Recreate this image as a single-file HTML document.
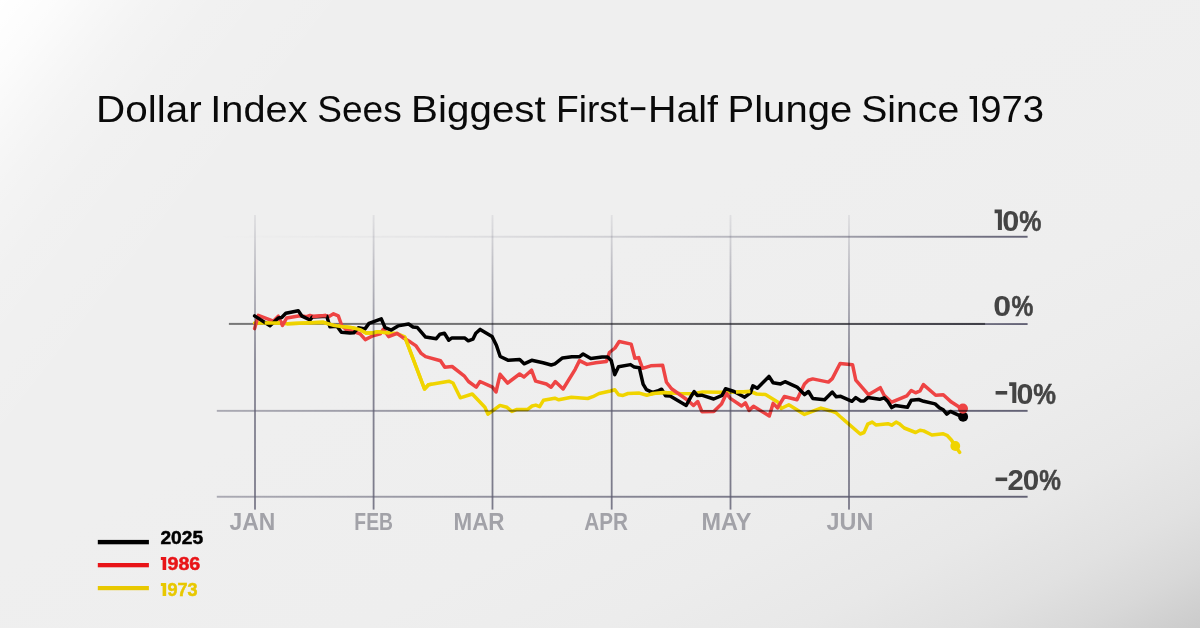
<!DOCTYPE html>
<html><head><meta charset="utf-8"><title>Dollar Index</title>
<style>
html,body{margin:0;padding:0;}
body{width:1200px;height:628px;overflow:hidden;font-family:"Liberation Sans",sans-serif;}
#bg{position:absolute;left:0;top:0;width:1200px;height:628px;
background:linear-gradient(128deg,rgba(255,255,255,1) 0%,rgba(255,255,255,0.78) 3.5%,rgba(255,255,255,0.5) 6.5%,rgba(255,255,255,0.3) 9%,rgba(255,255,255,0.12) 13%,rgba(255,255,255,0) 22%),linear-gradient(to bottom right,#efefef 0%,#efefef 45%,#eeeeee 65%,#ececec 75%,#e8e8e8 83.3%,#e1e1e1 90%,#d8d8d8 95%,#cbcbcb 100%);}
</style></head><body>
<div id="bg"></div>
<svg width="1200" height="628" viewBox="0 0 1200 628" style="position:absolute;left:0;top:0;will-change:transform">
<defs>
<linearGradient id="hg" gradientUnits="userSpaceOnUse" x1="216" y1="0" x2="1027" y2="0">
<stop offset="0" stop-color="#5b5a6e" stop-opacity="0.0"/><stop offset="0.25" stop-color="#5b5a6e" stop-opacity="0.06"/><stop offset="0.5" stop-color="#5b5a6e" stop-opacity="0.22"/><stop offset="0.75" stop-color="#5b5a6e" stop-opacity="0.5"/><stop offset="1" stop-color="#5b5a6e" stop-opacity="0.95"/></linearGradient>
<linearGradient id="hg2" gradientUnits="userSpaceOnUse" x1="216" y1="0" x2="1027" y2="0">
<stop offset="0" stop-color="#5b5a6e" stop-opacity="0.46"/><stop offset="1" stop-color="#5b5a6e" stop-opacity="0.95"/></linearGradient>
<linearGradient id="vg" gradientUnits="userSpaceOnUse" x1="0" y1="215" x2="0" y2="509">
<stop offset="0" stop-color="#5b5a6e" stop-opacity="0.10"/><stop offset="0.25" stop-color="#5b5a6e" stop-opacity="0.42"/><stop offset="0.5" stop-color="#5b5a6e" stop-opacity="0.72"/><stop offset="1" stop-color="#5b5a6e" stop-opacity="0.78"/></linearGradient>
</defs>
<rect x="228.9" y="322.9" width="756.2" height="2.0" fill="#000" fill-opacity="0.5"/>
<path d="M254.6,323.0 L279.0,323.0 L287.5,323.8 L323.0,322.3 L334.5,325.6 L341.5,326.6 L352.3,327.7 L360.8,329.9 L366.0,333.0 L372.9,333.0 L377.5,331.7 L389.8,333.0 L397.0,333.6 L404.8,336.9 L424.5,389.0 L428.5,384.7 L448.9,381.2 L453.0,383.0 L460.3,397.8 L472.3,394.0 L484.9,407.3 L488.0,414.2 L500.0,405.4 L506.9,407.3 L511.9,411.4 L517.0,409.4 L527.7,409.4 L532.1,406.0 L535.8,405.1 L539.6,406.6 L543.4,400.3 L554.8,398.2 L558.8,399.8 L571.4,397.3 L587.7,398.5 L592.8,396.7 L599.1,393.5 L610.4,391.0 L614.8,389.7 L618.6,394.8 L623.0,395.4 L628.0,393.5 L639.3,393.1 L646.8,395.2 L653.2,393.5 L663.3,392.6 L680.1,393.4 L693.5,393.7 L702.6,391.9 L722.7,392.3 L736.6,392.1 L750.4,391.5 L756.7,394.0 L765.5,394.6 L778.1,402.2 L781.2,408.5 L788.8,404.7 L804.5,414.4 L820.9,408.1 L830.0,410.7 L835.7,412.5 L840.1,416.5 L845.1,420.8 L860.2,434.0 L864.0,432.5 L867.7,424.2 L872.2,422.1 L875.9,424.9 L887.9,423.7 L891.7,425.2 L896.1,422.1 L899.2,423.7 L904.2,428.0 L915.6,432.5 L920.0,430.2 L923.7,430.9 L931.9,435.0 L943.3,433.8 L947.0,435.3 L951.4,440.0 L955.2,446.0 L959.6,452.3" fill="none" stroke="#f0d400" stroke-width="3.5" stroke-linejoin="round" stroke-linecap="round"/>
<path d="M254.6,328.6 L258.3,315.4 L273.3,321.2 L278.3,316.2 L282.5,325.4 L286.7,318.0 L300.0,315.8 L306.7,316.7 L310.0,315.4 L313.3,316.4 L325.8,315.6 L329.0,316.4 L333.5,313.8 L338.3,315.8 L341.7,325.5 L346.0,329.5 L355.0,332.0 L360.1,333.9 L365.3,339.6 L372.9,335.8 L380.3,333.9 L383.5,329.0 L388.6,336.6 L397.1,333.3 L404.0,338.3 L410.5,342.1 L416.1,345.9 L421.2,353.4 L425.6,356.6 L440.5,360.8 L444.8,367.3 L452.1,366.5 L464.1,375.8 L468.5,381.5 L476.2,387.2 L480.0,381.5 L492.5,387.2 L496.0,392.0 L500.1,374.3 L507.6,383.1 L519.6,374.0 L524.0,377.0 L531.5,370.2 L535.6,381.1 L546.4,384.0 L551.1,387.2 L555.3,381.6 L563.1,389.0 L575.2,369.3 L579.5,360.6 L587.0,364.4 L595.8,362.8 L606.5,361.4 L609.4,352.5 L615.0,348.0 L619.2,341.5 L631.2,344.1 L634.9,358.3 L638.7,357.6 L642.5,368.3 L650.7,365.8 L662.6,365.2 L666.5,382.3 L671.5,388.8 L687.7,400.2 L693.5,405.5 L697.7,401.5 L701.9,411.7 L713.8,411.5 L721.5,404.1 L726.5,393.4 L730.3,398.4 L741.6,406.0 L745.4,402.8 L749.1,410.4 L753.5,406.3 L769.3,416.0 L773.1,403.4 L777.5,407.9 L784.4,396.5 L797.0,399.7 L804.5,383.9 L808.3,380.2 L812.7,378.9 L828.4,382.1 L832.3,378.6 L840.1,363.5 L852.6,364.8 L855.8,380.2 L868.4,394.7 L880.3,387.7 L884.1,395.3 L891.7,402.2 L906.8,395.9 L911.2,390.5 L915.6,392.8 L920.0,390.9 L923.4,384.6 L935.7,395.3 L943.3,394.7 L951.4,402.1 L959.6,407.2 L962.8,408.5" fill="none" stroke="#ee4444" stroke-width="3.5" stroke-linejoin="round" stroke-linecap="round"/>
<path d="M254.6,315.9 L270.0,325.8 L278.3,317.9 L281.7,317.5 L285.8,313.3 L298.3,310.8 L302.0,316.2 L310.0,320.0 L312.5,316.9 L326.8,316.3 L329.9,326.8 L337.0,326.2 L341.4,332.3 L350.0,333.0 L353.8,332.8 L358.4,327.7 L365.0,328.9 L369.0,323.4 L381.3,318.9 L385.1,327.7 L391.3,330.1 L398.0,325.9 L408.6,324.0 L413.0,327.0 L417.4,327.6 L425.6,337.1 L436.3,338.7 L440.0,334.2 L444.4,333.3 L448.8,340.2 L452.0,337.9 L464.6,337.9 L468.3,340.8 L472.9,339.2 L475.8,333.2 L480.2,329.4 L492.0,336.4 L496.4,345.2 L500.2,356.5 L508.4,360.3 L519.7,359.6 L524.1,363.8 L531.7,360.3 L543.0,362.8 L551.2,365.0 L554.9,363.8 L562.5,357.9 L571.9,356.8 L579.3,356.8 L583.1,354.0 L590.8,358.5 L602.1,357.1 L607.6,357.0 L611.2,360.5 L614.7,374.7 L618.5,366.7 L630.5,364.6 L634.3,367.1 L639.3,367.7 L643.1,384.2 L646.4,389.7 L652.4,392.4 L657.5,391.0 L661.6,389.2 L665.6,395.8 L670.1,396.1 L686.2,405.4 L691.5,395.7 L694.1,391.6 L697.2,395.4 L701.7,395.2 L713.7,399.0 L722.1,395.3 L725.5,388.7 L734.0,391.5 L744.7,397.2 L750.4,392.8 L752.9,385.8 L757.3,388.3 L769.0,376.4 L773.1,382.7 L780.6,383.9 L785.0,381.7 L797.0,387.1 L804.5,394.6 L808.5,391.5 L812.7,398.4 L824.6,399.7 L832.3,392.1 L836.3,396.8 L840.7,396.3 L852.0,401.3 L855.8,397.6 L860.8,401.0 L864.0,401.0 L867.7,397.6 L879.7,399.3 L884.1,397.8 L887.9,401.6 L891.7,407.6 L895.4,405.4 L907.4,407.3 L911.2,400.3 L918.7,399.5 L923.7,401.3 L935.1,403.9 L939.5,407.9 L943.3,409.8 L946.8,414.2 L950.4,411.4 L958.5,415.2 L963.0,416.8" fill="none" stroke="#000000" stroke-width="3.5" stroke-linejoin="round" stroke-linecap="round"/>
<path d="M264.7,323.0 L279.0,323.0 L280.0,323.1" fill="none" stroke="#f0d400" stroke-width="3.5" stroke-linejoin="round" stroke-linecap="butt"/>
<path d="M287.0,323.7 L287.5,323.8 L323.0,322.3 L334.5,325.6 L341.5,326.6 L352.3,327.7 L360.8,329.9 L366.0,333.0 L372.9,333.0 L377.5,331.7 L389.3,332.9" fill="none" stroke="#f0d400" stroke-width="3.5" stroke-linejoin="round" stroke-linecap="butt"/>
<path d="M405.0,337.4 L424.5,389.0 L428.5,384.7 L432.0,384.1" fill="none" stroke="#f0d400" stroke-width="3.5" stroke-linejoin="round" stroke-linecap="butt"/>
<path d="M650.0,394.4 L653.2,393.5 L663.3,392.6 L672.0,393.0" fill="none" stroke="#f0d400" stroke-width="3.5" stroke-linejoin="round" stroke-linecap="butt"/>
<path d="M736.0,392.1 L736.6,392.1 L750.4,391.5 L750.4,391.5" fill="none" stroke="#f0d400" stroke-width="3.5" stroke-linejoin="round" stroke-linecap="butt"/>
<path d="M312.3,316.1 L313.3,316.4 L325.8,315.6 L326.6,315.8" fill="none" stroke="#ee4444" stroke-width="3.5" stroke-linejoin="round" stroke-linecap="butt"/>
<circle cx="955.3" cy="446" r="4.9" fill="#f0d400"/>
<circle cx="963.1" cy="416.8" r="5.0" fill="#000000"/>
<circle cx="962.9" cy="408.6" r="5.1" fill="#ee4444"/>
<g style="mix-blend-mode:multiply">
<rect x="254.10" y="215" width="1.8" height="294.6" fill="url(#vg)"/>
<rect x="372.70" y="215" width="1.8" height="294.6" fill="url(#vg)"/>
<rect x="491.60" y="215" width="1.8" height="294.6" fill="url(#vg)"/>
<rect x="610.80" y="215" width="1.8" height="294.6" fill="url(#vg)"/>
<rect x="729.60" y="215" width="1.8" height="294.6" fill="url(#vg)"/>
<rect x="848.10" y="215" width="1.8" height="294.6" fill="url(#vg)"/>
<rect x="216" y="235.8" width="811.6" height="1.9" fill="url(#hg)"/>
<rect x="216" y="323.1" width="811.6" height="1.9" fill="url(#hg)"/>
<rect x="216.8" y="409.9" width="810.8" height="1.9" fill="url(#hg2)"/>
<rect x="216.8" y="495.8" width="810.8" height="1.9" fill="url(#hg2)"/>
</g>
<g font-family="'Liberation Sans', sans-serif">
<text x="96.12" y="122.0" font-size="37" font-weight="normal" fill="#0a0a0a" textLength="105.58" lengthAdjust="spacingAndGlyphs">Dollar</text>
<text x="210.24" y="122.0" font-size="37" font-weight="normal" fill="#0a0a0a" textLength="97.32" lengthAdjust="spacingAndGlyphs">Index</text>
<text x="317.25" y="122.0" font-size="37" font-weight="normal" fill="#0a0a0a" textLength="84.50" lengthAdjust="spacingAndGlyphs">Sees</text>
<text x="411.13" y="122.0" font-size="37" font-weight="normal" fill="#0a0a0a" textLength="134.66" lengthAdjust="spacingAndGlyphs">Biggest</text>
<text x="555.98" y="122.0" font-size="37" font-weight="normal" fill="#0a0a0a" textLength="72.30" lengthAdjust="spacingAndGlyphs">First</text>
<text x="648.01" y="122.0" font-size="37" font-weight="normal" fill="#0a0a0a" textLength="70.06" lengthAdjust="spacingAndGlyphs">Half</text>
<text x="727.56" y="122.0" font-size="37" font-weight="normal" fill="#0a0a0a" textLength="124.60" lengthAdjust="spacingAndGlyphs">Plunge</text>
<text x="861.25" y="122.0" font-size="37" font-weight="normal" fill="#0a0a0a" textLength="97.90" lengthAdjust="spacingAndGlyphs">Since</text>
<text x="980.29" y="122.0" font-size="37" font-weight="normal" fill="#0a0a0a" textLength="63.70" lengthAdjust="spacingAndGlyphs">973</text>
<path d="M969.60,95.90 H977.00 V122.00 H973.60 V98.90 H969.60 Z" fill="#0a0a0a"/>
<rect x="630.8" y="107.2" width="14.55" height="2.9" fill="#0a0a0a"/>
<path d="M994.60,209.50 H1001.90 V230.10 H997.90 V213.20 H994.60 Z" fill="#444444"/>
<text x="1002.30" y="230.7" font-size="29.4" font-weight="bold" fill="#444444" textLength="17.06" lengthAdjust="spacingAndGlyphs">0</text>
<text x="1019.36" y="230.7" font-size="29.4" font-weight="bold" fill="#444444" textLength="22.19" lengthAdjust="spacingAndGlyphs" stroke="#444444" stroke-width="0.5">%</text>
<text x="993.23" y="316.20000000000005" font-size="29.4" font-weight="bold" fill="#444444" textLength="17.88" lengthAdjust="spacingAndGlyphs">0</text>
<text x="1011.57" y="316.20000000000005" font-size="29.4" font-weight="bold" fill="#444444" textLength="21.87" lengthAdjust="spacingAndGlyphs" stroke="#444444" stroke-width="0.5">%</text>
<rect x="995.6" y="391.00" width="11.60" height="3.6" fill="#444444"/>
<path d="M1009.20,382.30 H1016.30 V402.90 H1012.30 V386.00 H1009.20 Z" fill="#444444"/>
<text x="1016.41" y="403.5" font-size="29.4" font-weight="bold" fill="#444444" textLength="16.94" lengthAdjust="spacingAndGlyphs">0</text>
<text x="1033.35" y="403.5" font-size="29.4" font-weight="bold" fill="#444444" textLength="22.73" lengthAdjust="spacingAndGlyphs" stroke="#444444" stroke-width="0.5">%</text>
<rect x="995.6" y="477.50" width="11.60" height="3.6" fill="#444444"/>
<text x="1007.50" y="490.0" font-size="29.4" font-weight="bold" fill="#444444" textLength="16.30" lengthAdjust="spacingAndGlyphs">2</text>
<text x="1022.74" y="490.0" font-size="29.4" font-weight="bold" fill="#444444" textLength="16.48" lengthAdjust="spacingAndGlyphs">0</text>
<text x="1039.18" y="490.0" font-size="29.4" font-weight="bold" fill="#444444" textLength="21.66" lengthAdjust="spacingAndGlyphs" stroke="#444444" stroke-width="0.5">%</text>
<text x="229.51" y="529.5" font-size="23.2" font-weight="bold" fill="#a2a2a8" textLength="45.71" lengthAdjust="spacingAndGlyphs">JAN</text>
<text x="354.35" y="529.5" font-size="23.2" font-weight="bold" fill="#a2a2a8" textLength="38.58" lengthAdjust="spacingAndGlyphs">FEB</text>
<text x="453.55" y="529.5" font-size="23.2" font-weight="bold" fill="#a2a2a8" textLength="50.99" lengthAdjust="spacingAndGlyphs">MAR</text>
<text x="584.33" y="529.5" font-size="23.2" font-weight="bold" fill="#a2a2a8" textLength="43.69" lengthAdjust="spacingAndGlyphs">APR</text>
<text x="701.48" y="529.5" font-size="23.2" font-weight="bold" fill="#a2a2a8" textLength="49.93" lengthAdjust="spacingAndGlyphs">MAY</text>
<text x="826.50" y="529.5" font-size="23.2" font-weight="bold" fill="#a2a2a8" textLength="46.76" lengthAdjust="spacingAndGlyphs">JUN</text>
<text x="160.43" y="543.75" font-size="18.6" font-weight="bold" fill="#000000" textLength="42.62" lengthAdjust="spacingAndGlyphs" stroke="#000000" stroke-width="0.5">2025</text>
<path d="M160.85,557.10 H166.20 V570.10 H162.60 V559.90 H160.85 Z" fill="#e81418"/>
<text x="167.51" y="570.0" font-size="18.6" font-weight="bold" fill="#e81418" textLength="32.82" lengthAdjust="spacingAndGlyphs" stroke="#e81418" stroke-width="0.5">986</text>
<path d="M160.85,583.10 H166.20 V596.00 H162.60 V585.90 H160.85 Z" fill="#e8c800"/>
<text x="167.57" y="595.9" font-size="18.6" font-weight="bold" fill="#e8c800" textLength="30.08" lengthAdjust="spacingAndGlyphs" stroke="#e8c800" stroke-width="0.5">973</text>
</g>
<rect x="97.8" y="539.9" width="51.1" height="4.4" fill="#000"/>
<rect x="97.8" y="563" width="51.1" height="4.3" fill="#e81418"/>
<rect x="97.8" y="586" width="51.1" height="4.2" fill="#e8c800"/>
</svg>
</body></html>
